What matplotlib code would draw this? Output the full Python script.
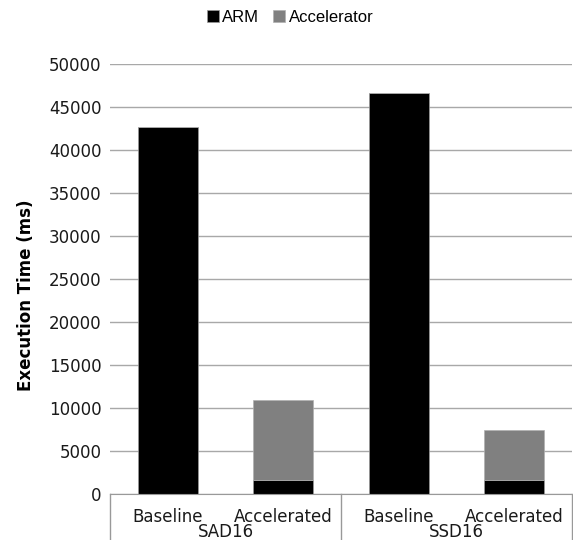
import numpy as np
import matplotlib.pyplot as plt
from matplotlib.patches import Patch

# ---- data ----
groups = ["SAD16", "SSD16"]
variants = ["Baseline", "Accelerated"]
arm_ms = [42700, 1650, 46600, 1650]
accel_ms = [0, 9250, 0, 5750]
yticks = [0, 5000, 10000, 15000, 20000, 25000, 30000, 35000, 40000, 45000, 50000]

plt.rcParams['font.family'] = 'DejaVu Sans'

fig = plt.figure(figsize=(5.73, 5.4), dpi=100)
W, H = 573, 540
ax = fig.add_axes([110 / W, 1 - 494 / H, 462 / W, 430 / H])

x = np.arange(len(arm_ms))
width = 0.52
ax.bar(x, arm_ms, width, color='black', edgecolor='#9a9a9a', linewidth=0.5, zorder=3)
ax.bar(x, accel_ms, width, bottom=arm_ms, color='#808080', edgecolor='#b0b0b0',
       linewidth=0.5, zorder=3)

ax.set_xlim(-0.5, len(arm_ms) - 0.5)
ax.set_ylim(0, 50000)
ax.set_yticks(yticks)
ax.set_yticklabels([str(t) for t in yticks], fontsize=12, color='#1a1a1a')
ax.tick_params(axis='y', length=0, pad=6)
ax.set_xticks([])
ax.grid(axis='y', color='#a8a8a8', linewidth=1, zorder=0)
for s in ['top', 'right', 'left']:
    ax.spines[s].set_visible(False)
ax.spines['bottom'].set_color('#999999')
ax.spines['bottom'].set_zorder(4)

ax.set_ylabel("Execution Time (ms)", fontsize=12, fontweight='bold', labelpad=10)
ax.yaxis.set_label_coords(-75 / 462, (494 - 295) / 430)

# category box under the axis
trans = ax.get_xaxis_transform()
for xv in [-0.5, 1.5, 3.5]:
    ax.plot([xv, xv], [0, -0.2], color='#999999', lw=1, transform=trans, clip_on=False)
for i, xv in enumerate(x):
    ax.text(xv, -23 / 430, variants[i % 2], transform=trans, ha='center', va='center',
            fontsize=12, color='#1a1a1a')
for g, name in enumerate(groups):
    ax.text(2 * g + 0.5, -38 / 430, name, transform=trans, ha='center', va='center',
            fontsize=12, color='#1a1a1a')

handles = [Patch(facecolor='black', edgecolor='#9a9a9a', linewidth=0.5, label='ARM'),
           Patch(facecolor='#808080', edgecolor='#b0b0b0', linewidth=0.5, label='Accelerator')]
fig.legend(handles=handles, loc='center', bbox_to_anchor=(290 / W, 1 - 17 / H), ncol=2,
           frameon=False, handlelength=0.75, handleheight=0.75, handletextpad=0.2,
           columnspacing=0.8, prop={'family': 'Liberation Sans', 'size': 12})

fig.savefig('out.png', dpi=100)
